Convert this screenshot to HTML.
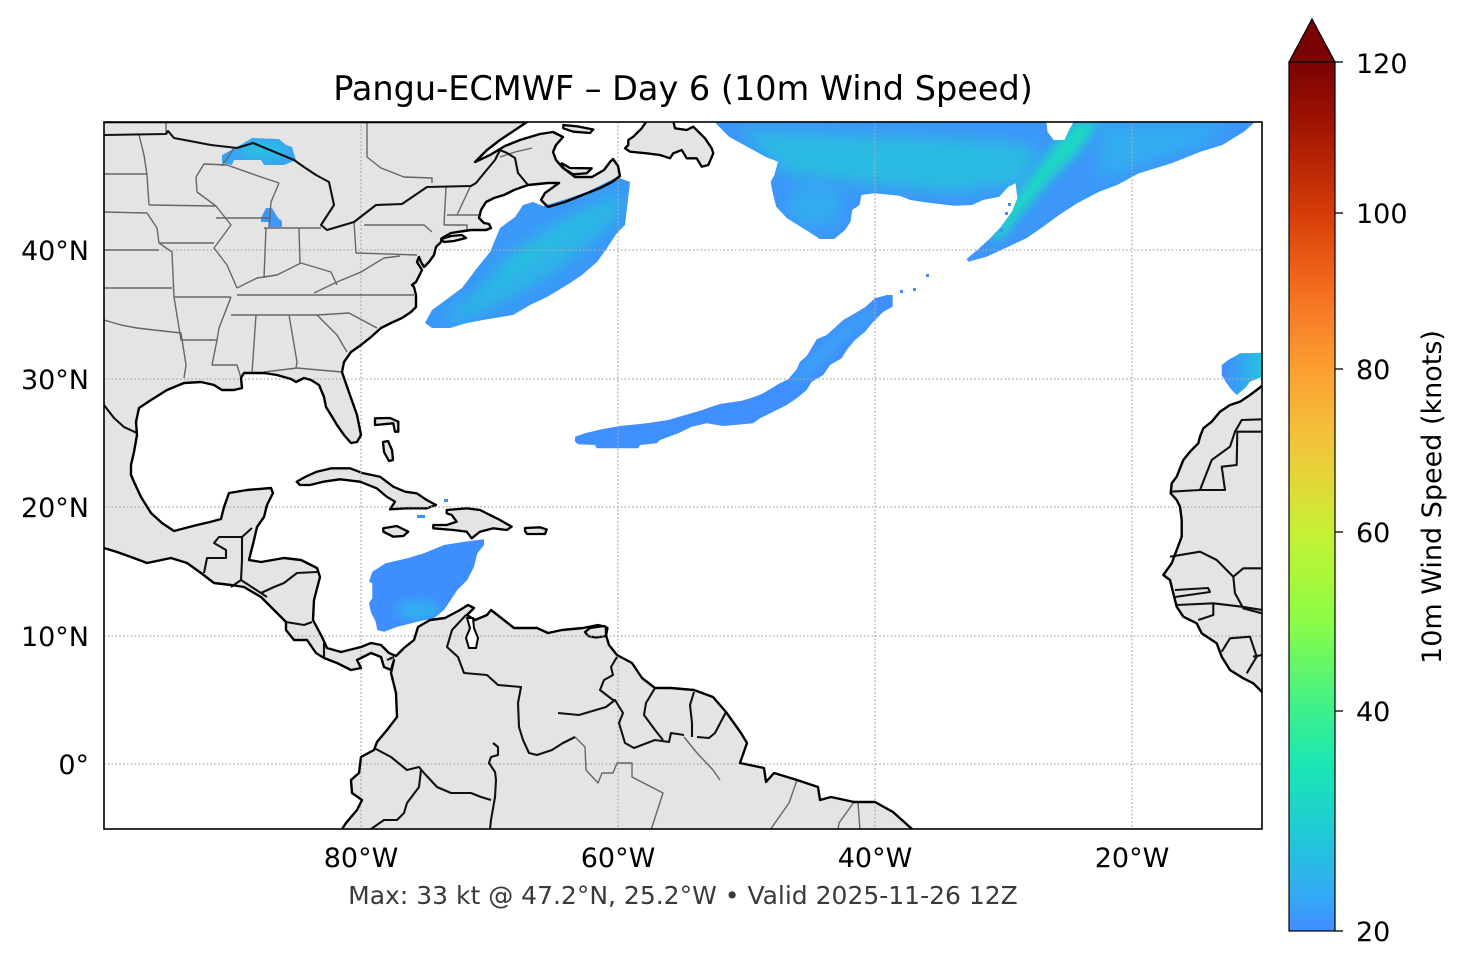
<!DOCTYPE html>
<html><head><meta charset="utf-8"><style>
html,body{margin:0;padding:0;background:#fff;}
svg{display:block;}
text{font-family:"DejaVu Sans","Liberation Sans",sans-serif;}
</style></head><body>
<svg width="1466" height="969" viewBox="0 0 1466 969" xmlns="http://www.w3.org/2000/svg">
<defs>
<clipPath id="ax"><rect x="104" y="122" width="1158" height="707"/></clipPath>
<linearGradient id="cbar" x1="0" y1="0" x2="0" y2="1">
<stop offset="0" stop-color="#7a0403"/><stop offset="0.06" stop-color="#9a1002"/>
<stop offset="0.174" stop-color="#d63c08"/><stop offset="0.24" stop-color="#ee6018"/>
<stop offset="0.295" stop-color="#f88028"/><stop offset="0.353" stop-color="#fb9e30"/>
<stop offset="0.419" stop-color="#f6bc3a"/><stop offset="0.484" stop-color="#e2d838"/>
<stop offset="0.541" stop-color="#c6f034"/><stop offset="0.596" stop-color="#a8f83a"/>
<stop offset="0.648" stop-color="#88fc4a"/><stop offset="0.706" stop-color="#5cf470"/>
<stop offset="0.747" stop-color="#3cf08c"/><stop offset="0.81" stop-color="#1ae6b4"/>
<stop offset="0.892" stop-color="#20c8d8"/><stop offset="0.962" stop-color="#35a8f5"/>
<stop offset="1" stop-color="#418cff"/>
</linearGradient>
<linearGradient id="can" x1="0" y1="0" x2="1" y2="0">
<stop offset="0" stop-color="#418cfe"/><stop offset="1" stop-color="#27c0e0"/>
</linearGradient>
<filter id="bl8" x="-50%" y="-50%" width="200%" height="200%"><feGaussianBlur stdDeviation="8"/></filter>
<filter id="bl5" x="-50%" y="-50%" width="200%" height="200%"><feGaussianBlur stdDeviation="5"/></filter>
<clipPath id="b1"><polygon points="425,323 432,310 443,302 462,288 477,268 490,252 500,228 515,217 523,205 533,202 543,206 563,200 587,192 607,182 617,177 630,182 627,208 625,225 617,233 607,248 597,262 582,275 567,285 547,297 530,305 513,315 483,320 467,323 450,328 432,328"/></clipPath>
<clipPath id="b2"><polygon points="714.5,122 1046.4,122 1047.5,131.7 1053.6,140 1064.5,140 1068.2,131.7 1073.6,122 1255,122 1244,131.7 1222.3,145 1200.5,151.7 1171.5,163.3 1138.9,173.3 1117.1,185 1099,191.7 1077.2,203.3 1059.1,215 1041,228.3 1026.4,238.3 1008.3,246.7 986.5,256.7 968.4,261.7 966.6,259 979.3,248.3 990.2,238.3 1001,226.7 1011.9,211.7 1017.4,198.3 1015.6,183.3 1008.3,186.7 999.2,196.7 982.9,200 972,205 953.9,205.7 924.9,202.3 910.4,200 899.5,195.7 874.1,193.3 861.4,195 859.6,205 852.3,210 850.5,221.7 845.1,230 834.2,239 819.7,239 808.8,231.7 787,218.3 776.2,206.7 772.5,191.7 770.7,181.7 774.4,175 778,161.7 765.3,156.7 747.2,146.7 729,136.7"/></clipPath>
<clipPath id="b3"><polygon points="575,436.7 585,433.3 601.7,429.3 620,426 646.7,423.3 668.3,420 681.7,416 700,410.7 710,407.3 720,404 741.7,400.7 753.3,397.3 761.7,394 771.7,388.3 778.3,384 788.3,379.3 796.7,369.3 800,361.7 806.7,356 813.3,345 816.7,339.3 826.7,335 836.7,326 843.3,320 855,313.3 865,307.3 875,298.3 886.7,295 892.7,295 892.7,306.7 883.3,311.7 873.3,321.7 865,331.7 855,340 846.7,350 841.7,358.3 830,365 823.3,375 811.7,381.7 806.7,390 796.7,398.3 786.7,405 773.3,411.7 760,418.3 753.3,423.3 723.3,426 706.7,423.3 691.7,426.7 678.3,433.3 660,440 656.7,443.3 640,445 638.3,448.3 596.7,448.3 595,445 578.3,444.3 575,441.7"/></clipPath>
<clipPath id="b4"><polygon points="372.3,571.7 385.7,563.3 407.3,558.3 424,553.3 444,545 464,541.7 484,539.3 484,545 477.3,553.3 474,566.7 467.3,580 457.3,590 450.7,600 444,610 434,618.3 417.3,621.7 397.3,626.7 384,631.7 377.3,630 375.7,621.7 370.7,611.7 369,603.3 372.3,598.3 372.3,583.3 369,581.7"/></clipPath>
<clipPath id="b5"><polygon points="222,155 237,147 252,138 279,139 286,145 292,147 296,160 284,165 264,165 261,160 234,160 232,165 222,163"/></clipPath>
</defs>

<g clip-path="url(#ax)">
<!-- land fill -->
<g fill="#e4e4e4" stroke="none">
<polygon points="104,122 527,122 515,130 500,140 487,150 475,162 490,155 505,146 520,140 540,134 553,132 563,137 556,145 553,152 556,160 562,167 575,177 592,177 604,170 610,162 613,159 618,166 620,176 612,182 600,188 585,194 565,202 548,207 541,200 545,193 559,183 548,183 538,184 528,185 514,190 504,195 494,198 486,202 481,210 479,218 484,223 489,224 491,228 486,230 471,230 464,231 451,233 442,238 441,242 436,247 434,255 429,262 424,267 421,262 419,257 417,262 422,270 416,282 412,285 414,287 416,295 416,307 411,312 402,318 391,323 381,328 371,337 361,345 351,352 344,362 342,372 344,378 351,398 357,415 361,435 357,442 351,443 344,435 337,425 331,415 326,407 324,397 319,385 311,380 304,378 296,382 291,379 277,375 264,373 244,373 241,378 242,388 234,390 222,390 214,385 201,382 184,383 167,390 151,400 139,408 136,422 137,435 134,452 131,465 131,475 134,482 141,497 151,513 162,523 174,531 197,525 210,522 221,519 224,507 229,493 247,490 271,488 273,493 267,505 264,517 257,527 254,540 249,560 261,562 284,558 301,560 317,568 320,577 314,600 313,620 322,637 327,648 341,652 361,647 371,643 381,645 389,653 396,656 404,648 414,640 418,627 430,620 445,618 460,610 468,605 474,608 467,615 475,620 487,615 491,610 500,617 514,628 537,628 548,633 562,630 583,628 598,625 606,627 606,635 609,645 617,655 632,663 642,678 655,688 671,688 694,690 713,697 726,712 741,733 747,743 740,763 764,768 766,782 774,773 797,780 818,787 820,800 831,797 854,802 875,802 893,812 912,829 913,840 342,840 342,829 346,823 357,810 362,800 352,793 351,780 359,773 361,757 374,750 377,742 387,730 397,717 396,693 391,673 394,660 391,670 384,667 381,657 371,653 357,660 361,668 351,670 337,663 324,658 316,653 307,640 294,640 286,630 286,622 271,607 261,597 244,587 231,585 214,583 201,573 187,563 171,558 147,563 131,557 117,552 104,548 90,548 90,122"/>
<polygon points="1262,386 1250,395 1240,401.7 1230,405 1220,411.7 1211.7,421.7 1203.3,428.3 1200,436.7 1198.3,443.3 1190,451.7 1183.3,460 1180,468.3 1176.7,476.7 1171.7,483.3 1170.7,493.3 1176.7,500 1180,506.7 1181.7,520 1181.7,536.7 1176.7,550 1171.7,563.3 1163.3,575 1170,580 1173.3,593.3 1176.7,606.7 1183.3,616.7 1196.7,623.3 1201.7,633.3 1216.7,643.3 1221.7,656.7 1230,670 1243.3,678.3 1253.3,683.3 1262,692 1275,692 1275,386"/>
</g>
<g fill="#e4e4e4" stroke="#000" stroke-width="2.3" stroke-linejoin="round">
<polygon points="628.3,140 633.3,136.7 641.7,128.3 646.7,121 673.3,121 675,128.3 686.7,130 693.3,126.7 698.3,131.7 705,138.3 711.7,148.3 713.3,153.3 708.3,165 701.7,166.7 696.7,158.3 686.7,158.3 681.7,150 673.3,153.3 670,158.3 660,155 646.7,153.3 630,151.7 625,148.3 628.3,145"/>
<polygon points="563.3,125 576.7,126.3 593.3,129.5 590,133 573.3,131.7 563.3,128.3"/>
<polygon points="561.7,163.3 570,168 591.7,168.3 586.7,173.3 573.3,174.3 563.3,168.3"/>
<polygon points="441,239 451,236 462,235 466,238 454,241 444,242"/>
<polygon points="375,418.3 390,418 398.3,421.7 398.3,431.7 395,431.7 393.3,423.3 375,425"/>
<polygon points="383,442 388,441 392,450 393,460 389,461 384,452"/>
<polygon points="296.7,481.7 305,477 316.7,471.7 331.7,468.3 350,468.3 363.3,473.3 380,476.7 393.3,486.7 405,491.7 416.7,493.3 426.7,500 436,505 426.7,508.3 406.7,508.3 390,509.3 395,501.7 386.7,496.7 376.7,488.3 360,481.7 340,479.3 323.3,481.7 310,485 300,485"/>
<polygon points="446.7,510 466.7,508.3 480,510 493.3,516.7 500,520 511.7,526.7 506.7,530 493.3,528.3 480,531.7 471.7,538.3 466.7,531.7 453.3,530 433.3,528.3 433.3,525 446.7,525 456.7,521.7 451.7,515 446.7,513.3"/>
<polygon points="383.3,528.3 396.7,526 408.3,531.7 403.3,536 393.3,536.7 383.3,531.7"/>
<polygon points="525,528 540,527.3 546.7,529.5 545,534 527,534 525,531"/>
<polygon points="585,632 590,628 604,626 607.5,628 606,636 596,637.5 588,636"/>
</g>

<!-- wind blobs -->
<g clip-path="url(#b1)"><rect x="400" y="160" width="250" height="180" fill="#3b98f8"/>
<polygon points="445,318 470,300 490,280 510,255 540,235 575,215 610,200 622,195 618,215 590,240 555,268 520,290 480,310 450,322" fill="#27bfe0" filter="url(#bl8)"/>
<polygon points="470,310 500,285 540,255 580,228 610,210 600,235 560,265 520,292 485,308" fill="#36abef" filter="url(#bl5)" opacity="0.5"/></g>
<g clip-path="url(#b2)"><rect x="700" y="115" width="570" height="160" fill="#3d96f9"/>
<polygon points="740,130 860,135 1000,140 1040,150 1020,185 950,192 870,185 790,175 760,150" fill="#2bbbe2" filter="url(#bl8)"/>
<ellipse cx="815" cy="205" rx="28" ry="22" fill="#32acf0" filter="url(#bl8)"/>
<polygon points="1075,122 1100,122 1080,150 1050,180 1020,215 1000,240 990,238 1010,205 1040,165 1060,138" fill="#1ed8c4" filter="url(#bl5)"/>
<polygon points="1100,125 1230,125 1200,145 1140,165 1100,180" fill="#31adf0" filter="url(#bl8)"/>
</g>
<g clip-path="url(#b3)"><rect x="570" y="290" width="330" height="165" fill="#3f8ffd"/>
<polygon points="790,380 815,350 845,325 875,305 870,320 840,345 815,370 795,385" fill="#3aa2f5" filter="url(#bl5)"/></g>
<g clip-path="url(#b4)"><rect x="365" y="535" width="125" height="100" fill="#3f8efd"/>
<ellipse cx="418" cy="610" rx="22" ry="10" fill="#33aef0" filter="url(#bl5)"/></g>
<g clip-path="url(#b5)"><rect x="215" y="135" width="85" height="35" fill="#38a5f3"/>
<ellipse cx="262" cy="150" rx="22" ry="7" fill="#25c3de" filter="url(#bl5)"/></g>
<polygon points="261,218 266,208 272,208 278,218 282,221 282,227 270,227 268,222 261,222" fill="#3f98f8"/>
<polygon points="1221.7,365 1228.3,360 1240,353.3 1262,352.7 1262,376.7 1250,381.7 1245,388.3 1236.7,395 1231.7,390 1226.7,383.3 1221.7,375" fill="url(#can)"/>
<g fill="#3f8efd">
<rect x="444" y="499" width="4" height="3"/><rect x="417" y="515" width="8" height="3"/>
<rect x="900" y="290" width="3" height="3"/><rect x="913" y="288" width="3" height="3"/><rect x="926" y="274" width="3" height="3"/>
<rect x="1000" y="229" width="3" height="3"/><rect x="1005" y="212" width="3" height="3"/><rect x="1008" y="203" width="3" height="3"/>
</g>

<!-- gridlines -->
<g stroke="#aaaaaa" stroke-width="1.3" stroke-dasharray="1.6,2.2" fill="none">
<line x1="361" y1="122" x2="361" y2="829"/><line x1="618" y1="122" x2="618" y2="829"/>
<line x1="875" y1="122" x2="875" y2="829"/><line x1="1132" y1="122" x2="1132" y2="829"/>
<line x1="104" y1="250" x2="1262" y2="250"/><line x1="104" y1="379" x2="1262" y2="379"/>
<line x1="104" y1="507" x2="1262" y2="507"/><line x1="104" y1="636" x2="1262" y2="636"/>
<line x1="104" y1="764" x2="1262" y2="764"/>
</g>

<!-- state / province borders -->
<g stroke="#666" stroke-width="1.4" fill="none" stroke-linejoin="round">
<polyline points="104,174 147,174"/>
<polyline points="139,135 144,155 147,175 149,205"/>
<polyline points="104,212 147,213 157,228 159,243"/>
<polyline points="104,250 159,250"/>
<polyline points="104,288 172,288"/>
<polyline points="104,320 121,325 137,328 154,330 181,333 186,365 184,378"/>
<polyline points="149,205 216,206"/>
<polyline points="159,243 214,243"/>
<polyline points="159,243 172,252 174,297 181,340 217,340"/>
<polyline points="174,297 231,297"/>
<polyline points="217,340 212,365 237,365 241,378"/>
<polyline points="231,297 219,328 217,340"/>
<polyline points="237,295 414,295"/>
<polyline points="231,315 317,315"/>
<polyline points="256,315 252,373"/>
<polyline points="289,315 297,362 296,368"/>
<polyline points="264,372 297,368 342,372"/>
<polyline points="317,315 349,313 377,328"/>
<polyline points="317,315 337,335 347,352"/>
<polyline points="314,293 337,282 361,272 384,258 400,256"/>
<polyline points="237,288 257,278 277,275 301,263 331,272 337,285"/>
<polyline points="266,228 264,278"/>
<polyline points="299,228 300,263"/>
<polyline points="264,228 321,228"/>
<polyline points="216,206 231,225 214,248 227,265 237,288"/>
<polyline points="216,218 271,218"/>
<polyline points="216,206 197,192 196,177 204,164 227,165"/>
<polyline points="227,165 261,177 279,183"/>
<polyline points="279,183 271,202 269,227"/>
<polyline points="234,148 222,166"/>
<polyline points="354,222 356,253 417,255"/>
<polyline points="364,225 424,225 432,232"/>
<polyline points="446,187 444,225"/>
<polyline points="457,215 471,185"/>
<polyline points="447,215 481,215"/>
<polyline points="444,225 467,225 467,232"/>
<polyline points="166,122 166,134"/>
<polyline points="367,122 367,157 381,168 404,177 432,178 432,183"/>
<polyline points="500,157 515,152 532,148"/>
<polyline points="575,737 585,747 586,770 598,783 602,773 613,773 617,763 632,763 632,777 663,793 651,830"/>
<polyline points="684,737 697,753 713,770 720,780"/>
<polyline points="797,780 789,803 770,830"/>
<polyline points="854,802 839,823 838,830"/>
<polyline points="858,803 860,830"/>
</g>

<!-- country borders -->
<g stroke="#111" stroke-width="2.1" fill="none" stroke-linejoin="round">
<polyline points="104,135 166,134 168,131 174,138 211,145 237,148 253,143 294,160 304,167 316,175 329,182 334,205 321,225 327,230 354,222 376,205 402,204 427,187 471,186 476,183 485,172 495,160 500,150 507,153 515,158 518,173 528,185"/>
<polyline points="104,405 114,418 124,427 137,433"/>
<polyline points="252,528 242,537 219,537 214,543 226,550 226,558 207,558 204,573"/>
<polyline points="242,537 242,560 241,580 261,593 267,597"/>
<polyline points="241,580 231,587"/>
<polyline points="261,593 274,587 284,583 297,573 317,572"/>
<polyline points="286,622 304,625 312,622"/>
<polyline points="324,643 324,658"/>
<polyline points="387,660 394,657"/>
<polyline points="466,615 452,630 447,647 458,657 464,673 487,675 498,685 521,687 518,703 519,727 523,740 529,753 537,755 552,750 563,743 575,737"/>
<polyline points="558,713 579,715 606,707 615,700"/>
<polyline points="617,657 611,667 613,675 604,680 600,690 613,700 615,700 623,713 619,723 625,743 634,748 655,740 669,742 671,733 684,735"/>
<polyline points="655,688 646,703 644,715 655,730 663,740"/>
<polyline points="694,692 690,705 692,723 692,737"/>
<polyline points="726,712 715,733 709,738 697,737"/>
<polyline points="493,743 498,747 498,755 491,757 489,763 495,772 496,780 495,797 491,820 490,829"/>
<polyline points="374,748 391,757 407,770 419,767 424,773 437,787 451,793 471,793 481,797 491,800"/>
<polyline points="421,770 419,787 407,803 404,813 397,820 384,820 371,829"/>
<polyline points="1170.7,491.7 1200,490 1225,490 1221.7,466.7 1236.7,465 1237.3,431.7 1262,431.7"/>
<polyline points="1200,490 1211.7,460 1230,446.7 1235,431.7 1241.7,420 1262,419.3"/>
<polyline points="1170,556.7 1200,551.7 1216.7,560 1233.3,576.7 1243.3,568.3 1262,568.3"/>
<polyline points="1233.3,576.7 1235,593.3 1243.3,608.3 1262,613.3"/>
<polyline points="1175,590 1208,588 1210,592 1175,597"/>
<polyline points="1176.7,605 1213.3,603.3 1241.7,606.7 1262,610"/>
<polyline points="1213.3,603.3 1213.3,615 1198.3,620"/>
<polyline points="1221.7,651.7 1230,638.3 1250,636.7 1256.7,656.7 1246.7,673.3"/>
<polyline points="1253,656.7 1262,655"/>
</g>

<!-- coastlines -->
<g fill="none" stroke="#000" stroke-width="2.4" stroke-linejoin="round">
<polygon points="104,122 527,122 515,130 500,140 487,150 475,162 490,155 505,146 520,140 540,134 553,132 563,137 556,145 553,152 556,160 562,167 575,177 592,177 604,170 610,162 613,159 618,166 620,176 612,182 600,188 585,194 565,202 548,207 541,200 545,193 559,183 548,183 538,184 528,185 514,190 504,195 494,198 486,202 481,210 479,218 484,223 489,224 491,228 486,230 471,230 464,231 451,233 442,238 441,242 436,247 434,255 429,262 424,267 421,262 419,257 417,262 422,270 416,282 412,285 414,287 416,295 416,307 411,312 402,318 391,323 381,328 371,337 361,345 351,352 344,362 342,372 344,378 351,398 357,415 361,435 357,442 351,443 344,435 337,425 331,415 326,407 324,397 319,385 311,380 304,378 296,382 291,379 277,375 264,373 244,373 241,378 242,388 234,390 222,390 214,385 201,382 184,383 167,390 151,400 139,408 136,422 137,435 134,452 131,465 131,475 134,482 141,497 151,513 162,523 174,531 197,525 210,522 221,519 224,507 229,493 247,490 271,488 273,493 267,505 264,517 257,527 254,540 249,560 261,562 284,558 301,560 317,568 320,577 314,600 313,620 322,637 327,648 341,652 361,647 371,643 381,645 389,653 396,656 404,648 414,640 418,627 430,620 445,618 460,610 468,605 474,608 467,615 475,620 487,615 491,610 500,617 514,628 537,628 548,633 562,630 583,628 598,625 606,627 606,635 609,645 617,655 632,663 642,678 655,688 671,688 694,690 713,697 726,712 741,733 747,743 740,763 764,768 766,782 774,773 797,780 818,787 820,800 831,797 854,802 875,802 893,812 912,829 913,840 342,840 342,829 346,823 357,810 362,800 352,793 351,780 359,773 361,757 374,750 377,742 387,730 397,717 396,693 391,673 394,660 391,670 384,667 381,657 371,653 357,660 361,668 351,670 337,663 324,658 316,653 307,640 294,640 286,630 286,622 271,607 261,597 244,587 231,585 214,583 201,573 187,563 171,558 147,563 131,557 117,552 104,548 90,548 90,122"/>
<polygon points="1262,386 1250,395 1240,401.7 1230,405 1220,411.7 1211.7,421.7 1203.3,428.3 1200,436.7 1198.3,443.3 1190,451.7 1183.3,460 1180,468.3 1176.7,476.7 1171.7,483.3 1170.7,493.3 1176.7,500 1180,506.7 1181.7,520 1181.7,536.7 1176.7,550 1171.7,563.3 1163.3,575 1170,580 1173.3,593.3 1176.7,606.7 1183.3,616.7 1196.7,623.3 1201.7,633.3 1216.7,643.3 1221.7,656.7 1230,670 1243.3,678.3 1253.3,683.3 1262,692 1275,692 1275,386"/>
</g>
<polygon points="467,618 470,628 466,638 469,648 476,648 478,638 474,628 473,618" fill="#fff" stroke="#000" stroke-width="2"/>
</g>

<rect x="104" y="122" width="1158" height="707" fill="none" stroke="#000" stroke-width="1.6"/>

<text x="683" y="100" font-size="33.5" text-anchor="middle" fill="#000">Pangu-ECMWF – Day 6 (10m Wind Speed)</text>

<g font-size="27" text-anchor="end" fill="#000">
<text x="89" y="260">40°N</text>
<text x="89" y="389">30°N</text>
<text x="89" y="517">20°N</text>
<text x="89" y="646">10°N</text>
<text x="89" y="774">0°</text>
</g>
<g font-size="27" text-anchor="middle" fill="#000">
<text x="361" y="867">80°W</text>
<text x="618" y="867">60°W</text>
<text x="875" y="867">40°W</text>
<text x="1132" y="867">20°W</text>
</g>

<text x="683" y="904" font-size="25" text-anchor="middle" fill="#3a3a3a">Max: 33 kt @ 47.2°N, 25.2°W • Valid 2025-11-26 12Z</text>

<polygon points="1289,62 1312,19 1335,62" fill="#7a0403" stroke="#000" stroke-width="1.2"/>
<rect x="1289" y="62" width="46" height="869" fill="url(#cbar)" stroke="#000" stroke-width="1.2"/>
<g stroke="#000" stroke-width="1.3">
<line x1="1335" y1="62" x2="1343" y2="62"/>
<line x1="1335" y1="213" x2="1343" y2="213"/>
<line x1="1335" y1="369" x2="1343" y2="369"/>
<line x1="1335" y1="532" x2="1343" y2="532"/>
<line x1="1335" y1="711" x2="1343" y2="711"/>
<line x1="1335" y1="931" x2="1343" y2="931"/>
</g>
<g font-size="27" fill="#000">
<text x="1356" y="73">120</text>
<text x="1356" y="223">100</text>
<text x="1356" y="379">80</text>
<text x="1356" y="542">60</text>
<text x="1356" y="721">40</text>
<text x="1356" y="941">20</text>
</g>
<text transform="translate(1441,497) rotate(-90)" font-size="27" text-anchor="middle" fill="#000">10m Wind Speed (knots)</text>
</svg>
</body></html>
